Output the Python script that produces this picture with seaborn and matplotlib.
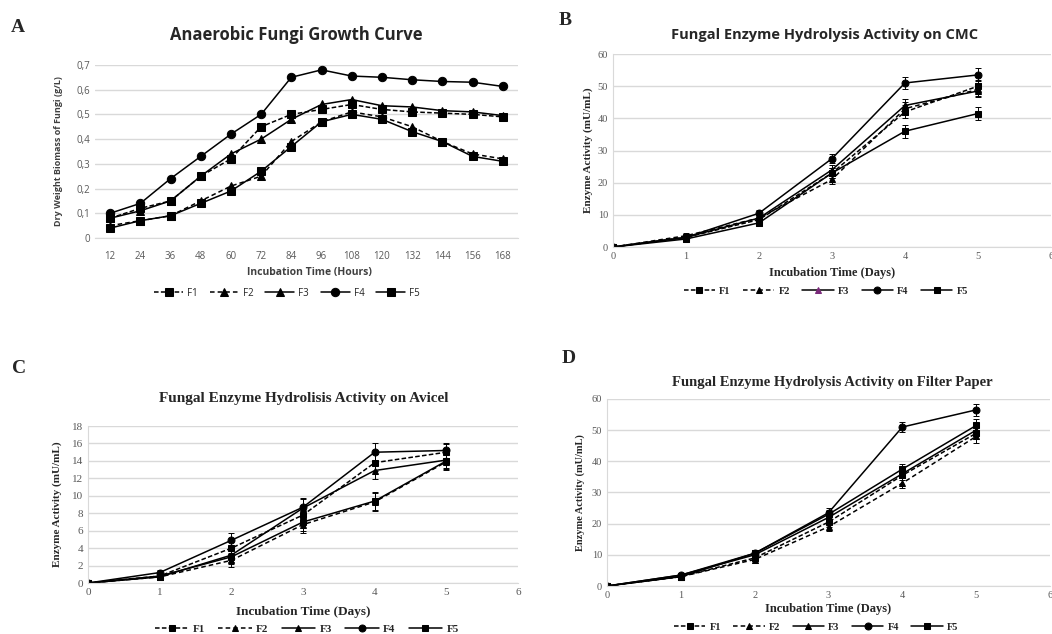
import pandas as pd
import numpy as np
import matplotlib.pyplot as plt
import seaborn as sns

# strains and marker / dash styles
strains = ['F1', 'F2', 'F3', 'F4', 'F5']
markers = {'F1': 's', 'F2': '^', 'F3': '^', 'F4': 'o', 'F5': 's'}
dashes = {'F1': (3, 1.5), 'F2': (3, 2), 'F3': '', 'F4': '', 'F5': ''}

# A: growth curve (g/L) per hour
hours = [12, 24, 36, 48, 60, 72, 84, 96, 108, 120, 132, 144, 156, 168]
growth_f1 = [0.08, 0.12, 0.15, 0.25, 0.32, 0.45, 0.50, 0.52, 0.54, 0.52, 0.51, 0.505, 0.50, 0.49]
growth_f2 = [0.05, 0.07, 0.09, 0.15, 0.21, 0.25, 0.39, 0.47, 0.51, 0.49, 0.45, 0.39, 0.34, 0.32]
growth_f3 = [0.08, 0.11, 0.15, 0.25, 0.34, 0.40, 0.48, 0.54, 0.56, 0.535, 0.53, 0.515, 0.51, 0.495]
growth_f4 = [0.10, 0.14, 0.24, 0.33, 0.42, 0.50, 0.65, 0.68, 0.655, 0.65, 0.64, 0.633, 0.63, 0.613]
growth_f5 = [0.04, 0.07, 0.09, 0.14, 0.19, 0.27, 0.37, 0.47, 0.50, 0.48, 0.43, 0.39, 0.33, 0.31]
growth_ticks = [0, 0.1, 0.2, 0.3, 0.4, 0.5, 0.6, 0.7]
growth_ticklabels = ['0', '0,1', '0,2', '0,3', '0,4', '0,5', '0,6', '0,7']

days = [0, 1, 2, 3, 4, 5]

# B: CMC (mU/mL)
cmc_f1 = [0, 3.0, 8.5, 23.0, 42.0, 50.0]
cmc_f2 = [0, 3.5, 9.0, 21.0, 43.0, 49.0]
cmc_f3 = [0, 3.0, 9.0, 24.0, 44.0, 48.5]
cmc_f4 = [0, 3.0, 10.5, 27.5, 51.0, 53.5]
cmc_f5 = [0, 2.5, 7.5, 23.0, 36.0, 41.5]
cmc_err = [0, 0.8, 1.0, 1.5, 2.0, 2.0]

# C: Avicel (mU/mL)
avicel_f1 = [0, 0.8, 4.0, 7.8, 13.8, 15.0]
avicel_f2 = [0, 0.7, 2.6, 6.7, 9.3, 13.9]
avicel_f3 = [0, 0.7, 3.2, 8.6, 12.9, 14.1]
avicel_f4 = [0, 1.2, 4.9, 8.7, 15.0, 15.2]
avicel_f5 = [0, 0.8, 3.0, 7.0, 9.4, 14.0]
avicel_err = [0, 0.3, 0.8, 1.0, 1.0, 0.9]

# D: filter paper (mU/mL)
fp_f1 = [0, 3.0, 9.0, 20.5, 35.5, 49.0]
fp_f2 = [0, 3.0, 8.5, 19.0, 33.0, 48.0]
fp_f3 = [0, 3.5, 10.0, 22.0, 36.0, 50.0]
fp_f4 = [0, 3.5, 10.5, 23.5, 51.0, 56.5]
fp_f5 = [0, 3.0, 10.5, 23.0, 37.5, 51.5]
fp_err = [0, 0.8, 1.0, 1.5, 1.5, 2.0]


def long_df(x, series):
    rows = []
    for name, vals in zip(strains, series):
        for xi, v in zip(x, vals):
            rows.append({'x': xi, 'y': v, 'strain': name})
    return pd.DataFrame(rows)


sns.set_style('white')
fig = plt.figure(figsize=(10.52, 6.34), dpi=100)

grid_c = '#d9d9d9'
tick_c = '#595959'
serif = 'Liberation Serif'
sans = 'Open Sans'


def draw(ax, x, series, err=None, purple_f3=False, msize=6):
    df = long_df(x, series)
    sns.lineplot(data=df, x='x', y='y', hue='strain', style='strain',
                 palette=['black'] * 5, markers=markers, dashes=dashes,
                 markersize=msize, markeredgecolor='black', linewidth=1.1,
                 errorbar=None, ax=ax)
    if err is not None:
        for vals in series:
            ax.errorbar(x, vals, yerr=err, fmt='none', ecolor='black',
                        elinewidth=0.7, capsize=2, capthick=0.7)
    if purple_f3:
        for ln in ax.lines:
            if ln.get_label() == 'F3':
                ln.set_markerfacecolor('#7a2a7a')
                ln.set_markeredgecolor('#7a2a7a')
    for s in ['top', 'right']:
        ax.spines[s].set_visible(False)
    ax.yaxis.grid(True, color=grid_c, linewidth=1)
    ax.set_axisbelow(True)
    ax.tick_params(length=0, colors=tick_c)


def legend(ax, bx, by, font):
    h, l = ax.get_legend_handles_labels()
    ax.legend(h, l, loc='center', bbox_to_anchor=(bx, by), ncol=5, frameon=False,
              handlelength=3, columnspacing=1.2, handletextpad=0.4,
              prop=font)


# ---- A ----
axA = fig.add_axes([0.0903, 0.6246, 0.402, 0.273])
draw(axA, hours, [growth_f1, growth_f2, growth_f3, growth_f4, growth_f5], msize=6)
axA.set_xlim(6, 174)
axA.set_ylim(0, 0.7)
axA.set_xticks(hours)
axA.set_yticks(growth_ticks)
axA.set_yticklabels(growth_ticklabels)
axA.tick_params(labelfontfamily=sans, labelsize=7)
axA.tick_params(axis='x', pad=9)
axA.spines['left'].set_visible(False)
axA.spines['bottom'].set_color(grid_c)
axA.set_xlabel('Incubation Time (Hours)', family=sans, fontweight='bold', fontsize=7.5, color='#404040')
axA.set_ylabel('Dry Weight Biomass of Fungi (g/L)', family=sans, fontweight='bold', fontsize=6.5, color='#404040')
axA.xaxis.set_label_coords(0.508, -0.165)
axA.yaxis.set_label_coords(-0.075, 0.5)
legend(axA, 0.454, -0.318, {'family': sans, 'size': 7})
fig.text(0.282, 0.945, 'Anaerobic Fungi Growth Curve', family=sans, fontweight='bold',
         fontsize=12, color='#262626', ha='center', va='center')

# ---- B ----
axB = fig.add_axes([0.5827, 0.6104, 0.4163, 0.3044])
draw(axB, days, [cmc_f1, cmc_f2, cmc_f3, cmc_f4, cmc_f5], err=cmc_err, purple_f3=True, msize=5)
axB.set_xlim(0, 6)
axB.set_ylim(0, 60)
axB.set_xticks(range(0, 7))
axB.set_yticks(range(0, 61, 10))
axB.tick_params(labelfontfamily=serif, labelsize=7.5)
axB.spines['left'].set_color(grid_c)
axB.spines['bottom'].set_color(grid_c)
axB.set_xlabel('Incubation Time (Days)', family=serif, fontweight='bold', fontsize=9)
axB.set_ylabel('Enzyme Activity (mU/mL)', family=serif, fontweight='bold', fontsize=8)
axB.xaxis.set_label_coords(0.5, -0.105)
axB.yaxis.set_label_coords(-0.045, 0.5)
legend(axB, 0.486, -0.228, {'family': serif, 'weight': 'bold', 'size': 7.5})
fig.text(0.784, 0.945, 'Fungal Enzyme Hydrolysis Activity on CMC', family=sans, fontweight='bold',
         fontsize=10.5, color='#262626', ha='center', va='center')

# ---- C ----
axC = fig.add_axes([0.0837, 0.0804, 0.4087, 0.2476])
draw(axC, days, [avicel_f1, avicel_f2, avicel_f3, avicel_f4, avicel_f5], err=avicel_err, msize=5)
axC.set_xlim(0, 6)
axC.set_ylim(0, 18)
axC.set_xticks(range(0, 7))
axC.set_yticks(range(0, 19, 2))
axC.tick_params(labelfontfamily=serif, labelsize=8)
axC.spines['left'].set_color(grid_c)
axC.spines['bottom'].set_color(grid_c)
axC.set_xlabel('Incubation Time (Days)', family=serif, fontweight='bold', fontsize=9.5)
axC.set_ylabel('Enzyme Activity (mU/mL)', family=serif, fontweight='bold', fontsize=8)
axC.xaxis.set_label_coords(0.5, -0.145)
axC.yaxis.set_label_coords(-0.06, 0.5)
legend(axC, 0.509, -0.293, {'family': serif, 'weight': 'bold', 'size': 8})
fig.text(0.289, 0.372, 'Fungal Enzyme Hydrolisis Activity on Avicel', family=serif, fontweight='bold',
         fontsize=11, color='#262626', ha='center', va='center')

# ---- D ----
axD = fig.add_axes([0.577, 0.0757, 0.4211, 0.295])
draw(axD, days, [fp_f1, fp_f2, fp_f3, fp_f4, fp_f5], err=fp_err, msize=5)
axD.set_xlim(0, 6)
axD.set_ylim(0, 60)
axD.set_xticks(range(0, 7))
axD.set_yticks(range(0, 61, 10))
axD.tick_params(labelfontfamily=serif, labelsize=7.5)
axD.spines['left'].set_color(grid_c)
axD.spines['bottom'].set_color(grid_c)
axD.set_xlabel('Incubation Time (Days)', family=serif, fontweight='bold', fontsize=9)
axD.set_ylabel('Enzyme Activity (mU/mL)', family=serif, fontweight='bold', fontsize=7.5)
axD.xaxis.set_label_coords(0.5, -0.09)
axD.yaxis.set_label_coords(-0.05, 0.5)
legend(axD, 0.472, -0.219, {'family': serif, 'weight': 'bold', 'size': 7.5})
fig.text(0.791, 0.397, 'Fungal Enzyme Hydrolysis Activity on Filter Paper', family=serif, fontweight='bold',
         fontsize=10.5, color='#262626', ha='center', va='center')

# panel letters
for x, y, s in [(0.017, 0.956, 'A'), (0.537, 0.967, 'B'), (0.018, 0.418, 'C'), (0.541, 0.435, 'D')]:
    fig.text(x, y, s, family=serif, fontweight='bold', fontsize=14, ha='center', va='center')

fig.savefig('out.png', dpi=100, facecolor='white')
